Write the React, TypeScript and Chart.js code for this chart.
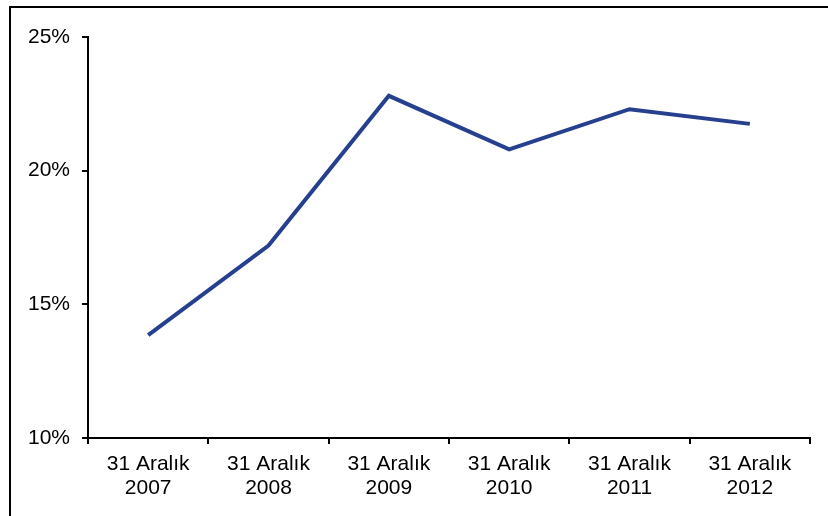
import React, { useEffect, useRef } from "react";
import { Chart, registerables } from "chart.js";

Chart.register(...registerables);

const categories: string[][] = [
  ["31 Aralık", "2007"],
  ["31 Aralık", "2008"],
  ["31 Aralık", "2009"],
  ["31 Aralık", "2010"],
  ["31 Aralık", "2011"],
  ["31 Aralık", "2012"],
];
const values: number[] = [13.85, 17.2, 22.8, 20.8, 22.3, 21.75];
const yMin = 10;
const yMax = 25;
const yStep = 5;

const framePlugin = {
  id: "frame",
  beforeDraw(chart: any) {
    const ctx = chart.ctx;
    ctx.save();
    ctx.fillStyle = "#ffffff";
    ctx.fillRect(0, 0, chart.width, chart.height);
    ctx.strokeStyle = "#000000";
    ctx.lineWidth = 2;
    ctx.strokeRect(10, 7, chart.width + 20, chart.height + 20);
    ctx.restore();
  },
};

export default function App() {
  const ref = useRef<HTMLCanvasElement>(null);
  useEffect(() => {
    if (!ref.current) return;
    const font = { family: "'Liberation Sans', Arial, sans-serif", size: 21, lineHeight: 1.15 };
    const chart = new Chart(ref.current, {
      type: "line",
      data: {
        labels: categories,
        datasets: [
          {
            data: values,
            borderColor: "#263F8E",
            borderWidth: 4,
            pointRadius: 0,
            tension: 0,
            fill: false,
          },
        ],
      },
      options: {
        animation: false,
        responsive: false,
        maintainAspectRatio: false,
        layout: { padding: { left: 0, top: 37, right: 18, bottom: 0 } },
        plugins: { legend: { display: false }, tooltip: { enabled: false } },
        scales: {
          x: {
            offset: true,
            grid: {
              offset: true,
              drawOnChartArea: false,
              drawTicks: true,
              tickLength: 6,
              color: "#000",
              lineWidth: 2,
            },
            border: { color: "#000", width: 2 },
            ticks: { color: "#000", font, padding: 8, maxRotation: 0, autoSkip: false },
            afterFit: (s: any) => {
              s.height = 78;
            },
          },
          y: {
            min: yMin,
            max: yMax,
            grid: {
              drawOnChartArea: false,
              drawTicks: true,
              tickLength: 6,
              color: "#000",
              lineWidth: 2,
            },
            border: { color: "#000", width: 2 },
            ticks: {
              stepSize: yStep,
              color: "#000",
              font,
              padding: 12,
              callback: (v: any) => v + "%",
            },
            afterFit: (s: any) => {
              s.width = 88;
            },
          },
        },
      },
      plugins: [framePlugin],
    });
    return () => chart.destroy();
  }, []);
  return (
    <div style={{ position: "fixed", left: 0, top: 0, width: 828, height: 516 }}>
      <canvas ref={ref} width={828} height={516} style={{ display: "block" }} />
    </div>
  );
}
